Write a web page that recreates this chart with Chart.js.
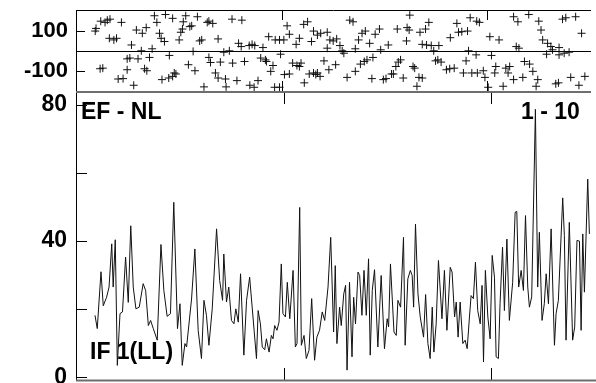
<!DOCTYPE html>
<html><head><meta charset="utf-8">
<script src="https://cdn.jsdelivr.net/npm/chart.js@4/dist/chart.umd.min.js"></script>
<style>
html,body{margin:0;padding:0;background:#fff;overflow:hidden;width:596px;height:383px;}
#wrapTop{position:absolute;left:0;top:0;width:596px;height:110px;}
#wrapBot{position:absolute;left:0;top:91px;width:596px;height:310px;}
.lbl{position:absolute;font-family:"Liberation Sans",Arial,sans-serif;font-weight:bold;font-size:23px;line-height:23px;color:#000;white-space:nowrap;}
</style></head><body>
<div id="wrapBot"><canvas id="cBot"></canvas></div>
<div id="wrapTop"><canvas id="cTop"></canvas></div>
<div class="lbl" style="left:81px;top:100px">EF - NL</div>
<div class="lbl" style="left:521px;top:100px">1 - 10</div>
<div class="lbl" style="left:90px;top:340px">IF 1(LL)</div>
<script>
// ---- data ----
const xTickValues = [100, 200];
const topYTicks = [-100, 100];
const botYLabelTicks = [0, 40, 80];
const botYMinorTicks = [0, 20, 40, 60, 80];

const lineX = [8.7,9.8,11.6,12.7,14.3,15.5,16.8,17.5,18.5,19.5,20.8,22,23.5,24.8,26,27.2,28.5,30.1,32,33.2,34.5,35.6,36.9,38.8,40.6,42,43.6,45.2,46.8,48.6,49.8,50.9,52.2,53,55.4,57,58.6,60.2,61.4,62.6,63.8,65.4,67.5,69,70.4,71,72.3,73.4,74.7,75.9,76.8,78,79.1,80.7,82,
83.5,86.8,87.6,88.7,89.6,90.8,91.6,92.9,94,94.8,95.6,96.7,97.7,98.8,99.6,100.8,101.7,102.9,104.5,105.6,106.4,107.7,108.5,109.8,110.9,112.2,113.5,114.9,116,117.3,118.6,119.8,121.4,122.7,124.1,124.9,125.7,127,127.8,129,129.9,130.6,131.8,133,133.8,134.7,135.9,136.7,137.8,138.8,139.9,141,141.8,142.8,143.9,145.5,147.1,148.7,150,150.7,151.6,153.3,154.4,155.2,156.5,
157.9,158.7,160,161.2,162.1,162.8,163.7,164.9,166,167.6,168.6,169.7,170.8,171.8,172.6,173.7,174.8,176.5,177.7,178.9,180.5,181.4,182.6,183.4,184.3,185.3,186.6,187.7,188.7,189.8,190.6,191.7,192.7,193.8,195,195.9,196.6,197.5,198.7,199.8,200.8,201.9,202.7,203.8,204.6,205.8,206.7,207.9,209.1,210.7,211.9,212.7,213.6,214.8,215.9,216.9,218,218.8,219.9,221.7,222.8,223.6,224.9,226,226.9,228,229.3,230.9,231.7,232.8,234.9,235.7,236.5,238.1,239.7,240.7,241.8,243,243.8,244.6,245.4,247,247.8];
const lineY = [18.2,14.3,31,21,23.5,26.5,39.2,26.5,40.4,3.5,18.7,19.2,35.3,22,44.5,26.5,20.1,20.6,27.5,25.5,15.2,16.7,14.3,10.9,39,25.5,17.9,18.7,51.4,14.3,21.6,3.5,9.9,8.9,23,37.7,13.8,5.5,22.6,18.2,9.4,20.1,43.6,28.4,22.6,36.2,22.1,26.5,16.7,15.7,20.1,16.2,30.4,6.5,22.6,
29.4,5.5,19.6,15.7,8.9,8.1,11.3,7.4,12.3,11.3,15.2,13.8,16.2,33.3,18.7,17.7,27.9,17.2,31.4,8.9,9.9,49.9,9.4,12.3,5.5,7.9,23.1,5,11.8,13.8,19.2,16.7,26.5,41.1,13.3,32.8,9.9,20.6,15.2,24.5,27,2.1,27.9,6,23.5,15.7,30.9,29.9,18.2,31.4,18.2,34.8,6.5,25.5,31.6,8.9,29.9,8.4,17.2,14.8,33.3,13.3,12.3,22.6,20.6,
41.1,9.4,28.9,31.4,29.9,20.6,45,24.5,17.7,11.8,24.3,9.9,5.5,20.6,7.4,15.7,34.3,17.2,31.4,13.8,32.3,30.9,17.7,22.1,11.8,22.1,9.9,10.9,8.4,17.7,24,23.1,33.8,19.6,15.7,27,4.5,31.4,17.7,11.3,35.8,29.4,6,5.5,21.6,38.2,19.6,40.6,16.7,27.9,48.5,48.7,26.5,31.4,25.5,47.5,26.5,20.6,23.6,78.7,26.5,42.6,16.7,21.6,30.4,21.6,43.6,9.4,18.7,22.6,52.7,41.6,10.9,45.5,10.9,14.8,40.2,40,13.8,42.1,25,58.2,42.1];

const scatterX = [11.6,13.7,14.8,16.1,21.7,37.8,39,43.2,46.7,51.9,53.1,55.1,56,58.8,63.6,64.4,66.3,75.7,80.5,8.9,9.3,15.8,18,19.3,29,33.8,31.9,40.3,41.1,42.7,49.9,50.7,51.5,59.9,60.9,68.9,78.9,80.2,26.6,31.4,36.7,45.1,56.7,71.7,74.4,24.5,25.8,29.8,35.4,64.4,65.2,70,76,81.8,11.3,12.6,24.5,33,34.1,47.5,48.3,54.4,57.6,20.1,22.5,27.7,41.5,44.8,46.7,67.6,68.9,72.5,78.1,62,72.8,
84.1,85.5,86.8,90.8,93.6,96.8,98.9,101,103.7,102.6,107,108.6,110.7,112.6,114.5,115.5,117.4,119,122.2,122.2,123.5,125.1,126.8,128.4,129.5,130.3,133.2,134.8,135.9,137.5,139.2,140.8,142.9,145.6,147.7,148.3,152,156.4,161.2,162.2,160.9,162.5,
84.4,86.5,88.4,89.7,92,92.5,94.6,95.7,96.5,98.9,99.4,101.3,103.7,105.3,107.4,108.6,109.4,111,113.4,115.5,116.6,117.4,118.7,120.6,123,126.3,131.9,135.9,138.4,140.3,141.6,144.5,144,149.6,150.9,153.6,154.5,156.9,158,155.7,159.3,164.1,164.9,166,
167.5,170.2,171.8,168.6,170.7,173,174.2,176.7,182.3,185.5,186.3,187.9,190.7,192,195.2,196.5,201.6,206.1,213.2,215.3,220.6,225.5,226.6,227.4,229.8,231.4,232.2,235.4,237.1,238.7,243.5,246.4,214.5,215.8,191.2,194.9,202.4,229.3,235.4,237.9,240.3,
167,168.6,175.1,176.2,177.8,180.4,182,184.2,190,188.7,192.8,195.5,198.4,199.2,200.8,204.5,204,208.1,209.4,211.3,210.5,213.2,217.7,218.5,221,222.6,224.2,225,233.8,235.1,241.1,245.1,248];
const scatterY = [149,143,154,159,143,176,143,182,163,146,176,122,126,171,143,149,138,159,154,100,113,64,56,64,105,117,89,89,64,48,56,94,110,51,56,61,39,23,31,2,12,-21,-1,-5,2,-38,-34,-38,-31,-31,-56,-54,-59,-51,-87,-84,-92,-87,-97,-108,-113,-67,-97,-138,-136,-169,-141,-133,-125,-108,-133,-138,-146,-177,-177,
28,34,28,18,72,56,56,56,84,126,34,64,133,146,48,100,80,89,94,15,56,51,61,28,2,-10,154,146,12,56,89,100,39,84,110,7,31,110,117,105,51,179,
-169,-179,-146,-34,-43,-51,-100,-71,-179,-179,-15,-116,-113,-59,-71,-76,-59,-157,-113,-108,-116,-108,-125,-48,-92,-67,-130,-100,-64,-51,-43,-31,-136,-141,-136,-113,-113,-54,-43,-76,-133,-76,-84,-174,
94,110,143,34,31,28,2,28,67,138,94,97,100,166,149,143,72,56,171,146,182,149,105,56,39,23,7,18,159,166,171,89,23,15,2,-18,-21,-15,-18,-10,-5,
-130,-133,-48,-43,-54,-92,-87,-84,-48,-108,-108,-108,-97,-130,-179,-76,-108,-174,-84,-76,-108,-141,-130,-51,-64,-100,-174,-141,-162,-157,-130,-169,-125];

// ---- styling helpers ----
const FONT = '"Liberation Sans", Arial, sans-serif';
function hline(ctx, x1, x2, y){ ctx.beginPath(); ctx.moveTo(x1, y); ctx.lineTo(x2, y); ctx.stroke(); }
function vline(ctx, x, y1, y2){ ctx.beginPath(); ctx.moveTo(x, y1); ctx.lineTo(x, y2); ctx.stroke(); }
function fixWidth(s){ s.width = 77; s.paddingTop = 0; s.paddingBottom = 0; }

const topFrame = {
  id: 'topFrame',
  afterDraw(chart){
    const {ctx, chartArea: a, scales: {x, y}} = chart;
    ctx.save();
    ctx.strokeStyle = '#000'; ctx.lineWidth = 1;
    hline(ctx, a.left - 1, a.right, 10.5);
    vline(ctx, 76.5, a.top, a.bottom + 2);
    hline(ctx, a.left, a.right, Math.round(y.getPixelForValue(0)) + 0.5);
    topYTicks.forEach(v => hline(ctx, 76, 85, Math.round(y.getPixelForValue(v)) + 0.5));
    xTickValues.forEach(v => {
      const px = Math.round(x.getPixelForValue(v)) + 0.5;
      vline(ctx, px, 10, 20);
      vline(ctx, px, 81, 91);
    });
    ctx.strokeStyle = '#6e6e6e'; ctx.lineWidth = 2;
    hline(ctx, 76, a.right, 92);
    ctx.restore();
  }
};

const botFrame = {
  id: 'botFrame',
  afterDraw(chart){
    const {ctx, chartArea: a, scales: {x, y}} = chart;
    ctx.save();
    ctx.strokeStyle = '#000'; ctx.lineWidth = 1;
    vline(ctx, 76.5, 0, a.bottom);
    botYMinorTicks.forEach(v => hline(ctx, 76, 87, Math.round(y.getPixelForValue(v)) + 0.5));
    xTickValues.forEach(v => {
      const px = Math.round(x.getPixelForValue(v)) + 0.5;
      vline(ctx, px, 0, 13);
      vline(ctx, px, a.bottom - 12, a.bottom);
    });
    ctx.strokeStyle = '#6e6e6e'; ctx.lineWidth = 2;
    hline(ctx, 76, a.right, a.bottom + 0.5);
    ctx.restore();
  }
};

new Chart(document.getElementById('cTop'), {
  type: 'scatter',
  data: { datasets: [{
    data: scatterX.map((v, i) => ({x: v, y: scatterY[i]})),
    pointStyle: 'cross', pointRadius: 4, pointBorderWidth: 1,
    borderColor: '#111', backgroundColor: '#111'
  }]},
  options: {
    responsive: true, maintainAspectRatio: false, animation: false,
    layout: {padding: {top: 10.5, bottom: 18.5, left: 0, right: 0}},
    plugins: {legend: {display: false}, tooltip: {enabled: false}},
    scales: {
      x: {type: 'linear', min: 0, max: 251, display: false},
      y: {
        min: -200, max: 202,
        afterFit: fixWidth,
        afterBuildTicks(s){ s.ticks = topYTicks.map(v => ({value: v})); },
        grid: {display: false, drawTicks: false},
        border: {display: false},
        ticks: {color: '#000', padding: 9, font: {family: FONT, weight: 'bold', size: 22}}
      }
    }
  },
  plugins: [topFrame]
});

new Chart(document.getElementById('cBot'), {
  type: 'line',
  data: { datasets: [{
    data: lineX.map((v, i) => ({x: v, y: lineY[i]})),
    borderColor: '#111', borderWidth: 1, pointRadius: 0, tension: 0, fill: false
  }]},
  options: {
    responsive: true, maintainAspectRatio: false, animation: false,
    layout: {padding: {top: 0, bottom: 21, left: 0, right: 0}},
    plugins: {legend: {display: false}, tooltip: {enabled: false}},
    scales: {
      x: {type: 'linear', min: 0, max: 251, display: false},
      y: {
        min: -0.8, max: 84.1,
        afterFit: fixWidth,
        afterBuildTicks(s){ s.ticks = botYLabelTicks.map(v => ({value: v})); },
        grid: {display: false, drawTicks: false},
        border: {display: false},
        ticks: {color: '#000', padding: 10, font: {family: FONT, weight: 'bold', size: 23}}
      }
    }
  },
  plugins: [botFrame]
});
</script>
</body></html>
